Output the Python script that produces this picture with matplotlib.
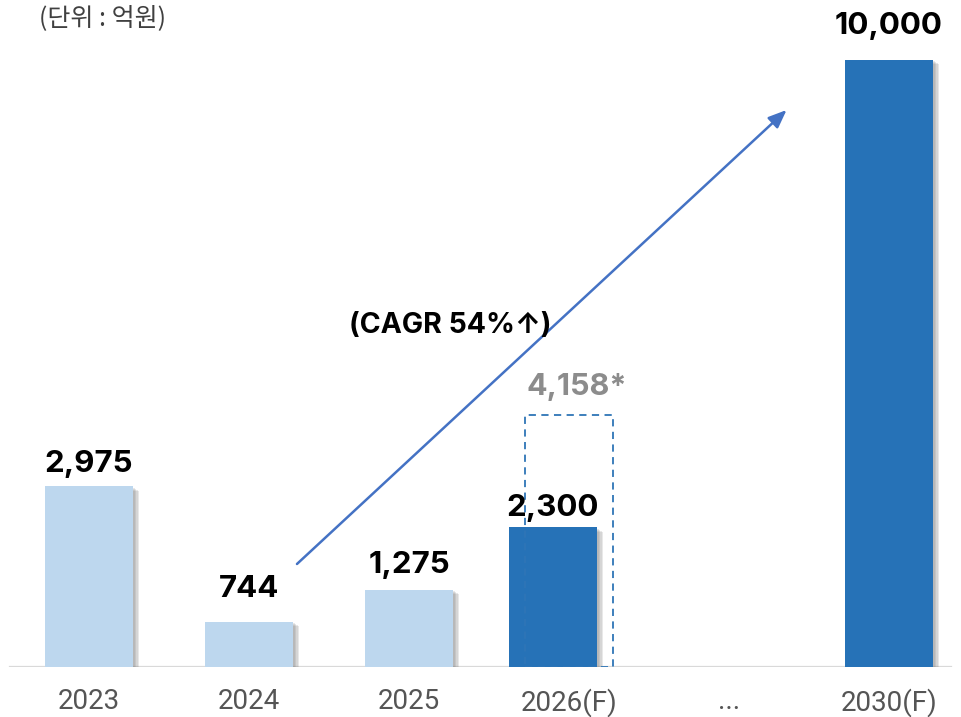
import matplotlib
matplotlib.use("Agg")
import matplotlib.pyplot as plt
import matplotlib.patheffects as pe
from matplotlib.patches import Rectangle

# data
CATEGORIES = ["2023", "2024", "2025", "2026(F)", "...", "2030(F)"]
BAR_YEARS = [0, 1, 2, 3, 5]          # category index of each bar
BAR_VALUES = [2975, 744, 1275, 2300, 10000]
BAR_LABELS = ["2,975", "744", "1,275", "2,300", "10,000"]
TARGET_2026 = 4158
TARGET_LABEL = "4,158*"
CAGR_TEXT = "(CAGR 54%↑)"
UNIT_TEXT = "(단위 : 억원)"

LIGHT = "#BDD7EE"
DARK = "#2672B7"
BAR_COLORS = [LIGHT, LIGHT, LIGHT, DARK, DARK]
BAR_SHIFT = [0, 0, 0, -0.1, 0]
LABEL_GAP = [14, 25, 17, 11, 26]

NUM_FONT = ["Inter", "DejaVu Sans"]

fig = plt.figure(figsize=(9.61, 7.17), dpi=100)
ax = fig.add_axes([0, 50 / 717, 1, 667 / 717])
ax.set_xlim(-0.556, 5.45)
ax.set_ylim(0, 10988)
for s in ax.spines.values():
    s.set_visible(False)
ax.set_yticks([])

# soft shadow on the right / bottom of each bar
shadow = [pe.SimplePatchShadow(offset=(o, -o * 0.7), shadow_rgbFace="#808080", alpha=0.18)
          for o in (4.5, 3.5, 2.5, 1.5)]
shadow.append(pe.Normal())

xs = [x + d for x, d in zip(BAR_YEARS, BAR_SHIFT)]
bars = ax.bar(xs, BAR_VALUES, width=0.55, color=BAR_COLORS, zorder=3)
for b in bars:
    b.set_path_effects(shadow)

for x, v, lab, gap in zip(xs, BAR_VALUES, BAR_LABELS, LABEL_GAP):
    ax.annotate(lab, (x, v), xytext=(0, gap * 0.72), textcoords="offset points",
                ha="center", va="baseline", fontsize=22.5, fontweight="bold",
                family=NUM_FONT, color="black", zorder=5)

# dashed target box for 2026
box = Rectangle((3 - 0.275, 0), 0.55, TARGET_2026, fill=False, edgecolor="#2E75B6",
                linestyle=(0, (4, 3)), linewidth=1.3, zorder=4)
ax.add_patch(box)
ax.annotate(TARGET_LABEL, (3 - 0.275, TARGET_2026), xytext=(1, 14), textcoords="offset points",
            ha="left", va="baseline", fontsize=22, fontweight="bold",
            family=NUM_FONT, color="#8C8C8C")

# baseline
ax.axhline(0, xmin=0.01, xmax=0.99, color="#D9D9D9", linewidth=1.6, zorder=2)

# CAGR arrow
ax.annotate("", xy=(4.36, 9176), xytext=(1.3, 1697),
            arrowprops=dict(arrowstyle="-|>,head_length=1.1,head_width=0.45",
                            color="#4472C4", linewidth=1.8, shrinkA=0, shrinkB=0))
ax.text(2.26, 5630, CAGR_TEXT, ha="center", va="center", fontsize=20.5,
        fontweight="bold", family=NUM_FONT, color="black")

ax.set_xticks(range(len(CATEGORIES)))
ax.set_xticklabels(CATEGORIES, family=["Roboto", "DejaVu Sans"], fontsize=20, color="#555555")
ax.tick_params(axis="x", length=0, pad=15)

fig.text(39 / 961, 1 - 5 / 717, UNIT_TEXT, ha="left", va="top", fontsize=18,
         family=["Noto Sans CJK KR", "DejaVu Sans"], color="#404040")

fig.savefig("out.png", dpi=100)
